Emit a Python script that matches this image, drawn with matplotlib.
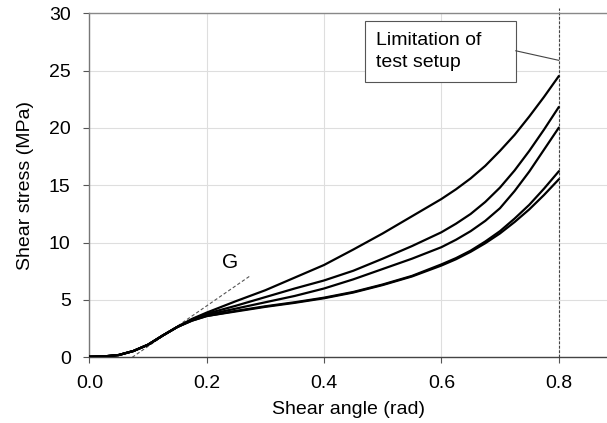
import numpy as np
import matplotlib.pyplot as plt
from matplotlib.patches import Rectangle

plt.rcParams['font.family'] = ['Liberation Sans', 'DejaVu Sans']

# shear angle (rad) where the curves were read
angle = [0.0, 0.025, 0.05, 0.075, 0.1, 0.125, 0.15, 0.175, 0.2, 0.25, 0.3,
         0.35, 0.4, 0.45, 0.5, 0.55, 0.6, 0.625, 0.65, 0.675, 0.7, 0.725,
         0.75, 0.775, 0.8]

# shear stress (MPa), five specimens
stress_a = [0.05, 0.08, 0.2, 0.55, 1.1, 1.9, 2.65, 3.35, 3.9, 4.9, 5.85,
            6.95, 8.05, 9.4, 10.8, 12.3, 13.8, 14.65, 15.6, 16.7, 18.0,
            19.4, 21.0, 22.7, 24.5]
stress_b = [0.05, 0.08, 0.2, 0.55, 1.1, 1.9, 2.65, 3.3, 3.8, 4.5, 5.25,
            6.0, 6.7, 7.55, 8.6, 9.7, 10.9, 11.65, 12.5, 13.55, 14.8,
            16.3, 18.0, 19.85, 21.8]
stress_c = [0.05, 0.08, 0.2, 0.55, 1.1, 1.9, 2.65, 3.25, 3.7, 4.25, 4.8,
            5.35, 6.0, 6.8, 7.7, 8.6, 9.6, 10.25, 11.0, 11.9, 13.0,
            14.5, 16.2, 18.1, 20.0]
stress_d = [0.05, 0.08, 0.2, 0.55, 1.1, 1.9, 2.65, 3.2, 3.6, 4.05, 4.45,
            4.8, 5.2, 5.7, 6.35, 7.1, 8.1, 8.65, 9.3, 10.1, 11.0,
            12.1, 13.3, 14.7, 16.2]
stress_e = [0.05, 0.08, 0.2, 0.55, 1.1, 1.9, 2.65, 3.2, 3.6, 4.0, 4.4,
            4.75, 5.15, 5.65, 6.3, 7.05, 8.0, 8.55, 9.2, 9.95, 10.8,
            11.8, 12.9, 14.15, 15.5]

# initial shear modulus tangent
g_x = [0.073, 0.274]
g_y = [0.0, 7.1]

limit = 0.8

fig = plt.figure(figsize=(6.07, 4.23), dpi=100)
ax = fig.add_axes([0.1473, 0.1553, 0.8527, 0.8133])

for s in [stress_a, stress_b, stress_c, stress_d, stress_e]:
    ax.plot(angle, s, color='black', lw=1.6, zorder=3)

ax.plot(g_x, g_y, color='#555555', lw=0.8, ls=(0, (3, 2)), zorder=2)
ax.text(0.24, 8.3, 'G', fontsize=15, ha='center', va='center')

ax.plot([limit, limit], [0, 30.5], color='#444444', lw=0.8,
        ls=(0, (2.5, 1.5)), clip_on=False, zorder=2)

ax.add_patch(Rectangle((0.47, 24.0), 0.257, 5.35, facecolor='white',
                       edgecolor='#555555', lw=0.8, zorder=4))
ax.text(0.488, 26.7, 'Limitation of\ntest setup', fontsize=14,
        ha='left', va='center', linespacing=1.4, zorder=5)
ax.plot([0.727, limit], [26.73, 25.9], color='#444444', lw=0.8, zorder=4)

ax.set_xlim(0, 0.8825)
ax.set_ylim(0, 30)
ax.set_xticks([0.0, 0.2, 0.4, 0.6, 0.8])
ax.set_xticklabels(['0.0', '0.2', '0.4', '0.6', '0.8'])
ax.set_yticks([0, 5, 10, 15, 20, 25, 30])
ax.grid(True, color='#dedede', lw=0.8)
ax.set_axisbelow(True)

ax.spines['right'].set_visible(False)
ax.spines['top'].set_color('#888888')
ax.spines['left'].set_color('#777777')
ax.spines['bottom'].set_color('#444444')
for sp in ax.spines.values():
    sp.set_linewidth(1.0)
ax.tick_params(axis='both', labelsize=14, length=4.5, width=0.8,
               color='#555555')
ax.tick_params(axis='x', pad=8)
ax.tick_params(axis='y', pad=9)

ax.set_xlabel('Shear angle (rad)', fontsize=14, labelpad=7)
ax.set_ylabel('Shear stress (MPa)', fontsize=14, labelpad=11)

fig.savefig('out.png', dpi=100)
